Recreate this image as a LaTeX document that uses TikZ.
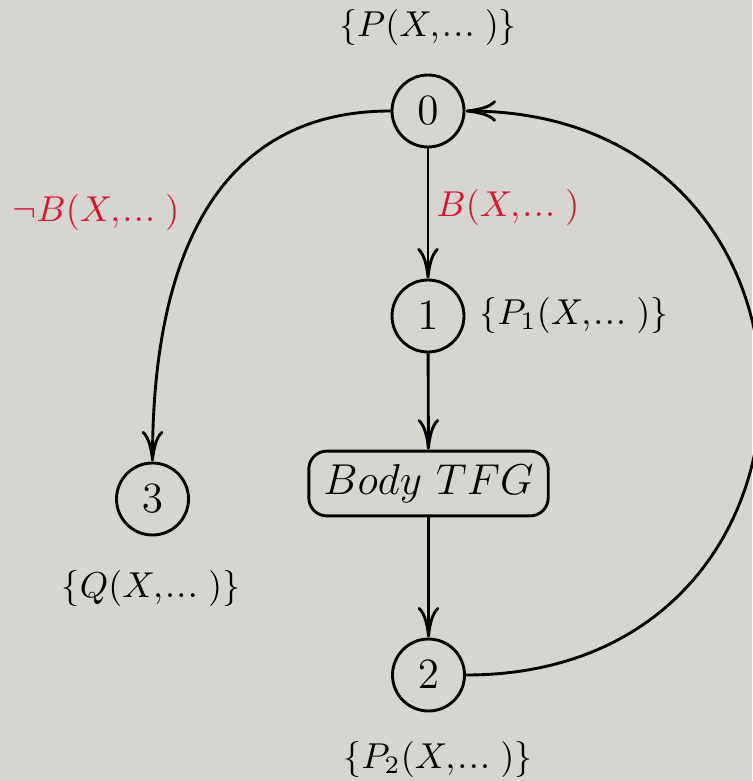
\documentclass[tikz,border=0pt]{standalone}
\usetikzlibrary{arrows.meta}
\definecolor{bg}{RGB}{215,213,207}
\definecolor{lblred}{RGB}{214,22,50}
\newcommand{\elli}{\mkern-2mu.\kern0.4pt.\kern0.4pt.\kern2.8pt}
\begin{document}
\begin{tikzpicture}[x=0.2778pt,y=-0.2778pt,
  state/.style={circle,draw,line width=0.8pt,minimum size=20pt,inner sep=0pt,font=\large},
  bodybox/.style={draw,line width=0.8pt,rounded corners=5pt,minimum width=66.5pt,minimum height=18pt,inner sep=0pt,font=\large},
  lbl/.style={inner sep=0pt},
  cond/.style={inner sep=0pt,text=lblred},
  edge/.style={draw,line width=0.8pt,-{Computer Modern Rightarrow[length=8.5pt,width=6pt]}}]
\useasboundingbox (0,0) rectangle (752,781);
\fill[bg] (0,0) rectangle (752,781);
\node[state] (n0) at (428,111) {$0$};
\node[state] (n1) at (428,316) {$1$};
\node[bodybox] (body) at (428.5,483.5) {$Body\ TFG$};
\node[state] (n2) at (428.5,675) {$2$};
\node[state] (n3) at (152.5,499) {$3$};
\node[lbl] (l0) at (428,27.5) {$\{P(X,\elli)\}$};
\node[lbl] (l1) at (574,315.5) {$\{P_1(X,\elli)\}$};
\node[lbl] (l2) at (438,759) {$\{P_2(X,\elli)\}$};
\node[lbl] (l3) at (151,588) {$\{Q(X,\elli)\}$};
\node[cond] (lb) at (508,208) {$B(X,\elli)$};
\node[cond] (lnb) at (96,213) {$\neg B(X,\elli)$};
\draw[edge] (n0) -- (n1);
\draw[edge] (n1) -- (body);
\draw[edge] (body) -- (n2);
\draw[edge] (n0.west) .. controls +(-185,0) and +(0,-185) .. (n3.north);
\draw[edge] (n2.east) .. controls +(393,0) and +(393,0) .. (n0.east);
\end{tikzpicture}
\end{document}
